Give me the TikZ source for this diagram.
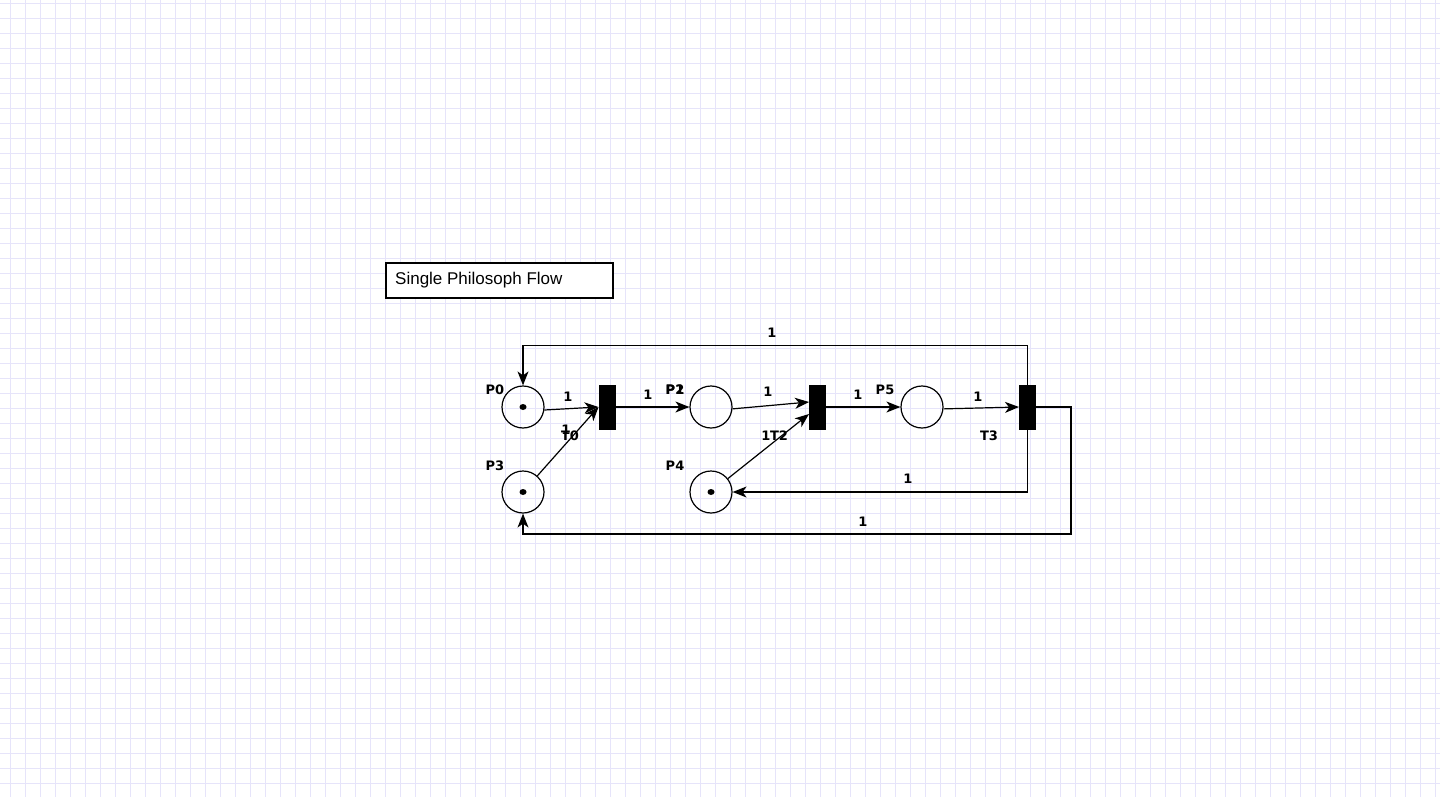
\documentclass[tikz,border=0pt]{standalone}
\usepackage{fontspec}
\setmainfont{DejaVu Sans}
\newfontfamily\titlefont{Liberation Sans}
\usetikzlibrary{arrows.meta,positioning,calc,shapes.geometric}
\definecolor{gridline}{RGB}{230,228,250}

\tikzset{
  place/.style={circle, draw, line width=1.2pt, minimum size=42pt, inner sep=0pt},
  trans/.style={rectangle, draw, fill=black, line width=1pt, minimum width=16pt, minimum height=44pt, inner sep=0pt},
  token/.style={ellipse, fill=black, minimum width=7pt, minimum height=6pt, inner sep=0pt},
  arc/.style={line width=1.2pt, -{Stealth[length=14pt, width=11pt, inset=4pt]}},
  lbl/.style={font=\fontsize{13}{15}\selectfont\bfseries, inner sep=0pt}
}

\begin{document}
\begin{tikzpicture}[x=1pt, y=-1pt]
  \useasboundingbox (0,0) rectangle (1440,797);
  % background grid
  \foreach \gx in {10,25,...,1435} \draw[gridline, line width=0.9pt] (\gx,0) -- (\gx,797);
  \foreach \gy in {3,18,...,795} \draw[gridline, line width=0.9pt] (0,\gy) -- (1440,\gy);

  % title
  \draw[line width=1.2pt, fill=white] (386,263) rectangle (613,298);
  \node[anchor=west, inner sep=0pt, font=\titlefont\fontsize{17}{19}\selectfont] (title) at (395,280) {Single Philosoph Flow};

  % places
  \node[place] (P0) at (523,407) {};
  \node[place] (P3) at (523,492) {};
  \node[place] (P2) at (711,407) {};
  \node[place] (P4) at (711,492) {};
  \node[place] (P5) at (922,407) {};
  \node[token] at (P0) {};
  \node[token] at (P3) {};
  \node[token] at (P4) {};

  % transitions
  \node[trans] (T0) at (607,407) {};
  \node[trans] (T2) at (817.5,407) {};
  \node[trans] (T3) at (1027.5,407) {};

  % arcs
  \draw[arc] (P0.-8) -- (T0.west);
  \draw[arc] (P3) -- (T0.west);
  \draw[arc] (T0.east) -- (P2.west);
  \draw[arc] (P2.-5) -- ($(T2.west)+(0,-5)$);
  \draw[arc] (P4) -- ($(T2.west)+(0,7)$);
  \draw[arc] (T2.east) -- (P5.west);
  \draw[arc] (P5.-5) -- (T3.west);
  \draw[arc] (T3.north) -- ++(0,-39) -| (P0.north);
  \draw[arc] (T3.south) |- (P4.east);
  \draw[arc] (T3.east) -- ++(35,0) -- ++(0,127) -| (P3.south);

  % names
  \node[lbl] (nP0) at (495,390) {P0};
  \node[lbl] (nP3) at (495,466) {P3};
  \node[lbl] (nP1) at (675,390) {P1};
  \node[lbl] (nP2) at (675,390) {P2};
  \node[lbl] (nP4) at (675,466) {P4};
  \node[lbl] (nP5) at (885,390) {P5};
  \node[lbl] (nT0) at (570,436) {T0};
  \node[lbl] (nT2) at (779,436) {T2};
  \node[lbl] (nT3) at (989,436) {T3};

  % weights
  \node[lbl] (w1) at (568,397) {1};
  \node[lbl] (w2) at (566,430) {1};
  \node[lbl] (w3) at (648,395) {1};
  \node[lbl] (w4) at (768,392) {1};
  \node[lbl] (w5) at (766,436) {1};
  \node[lbl] (w6) at (858,395) {1};
  \node[lbl] (w7) at (978,397) {1};
  \node[lbl] (w8) at (772,333) {1};
  \node[lbl] (w9) at (908,479) {1};
  \node[lbl] (w10) at (863,522) {1};
\end{tikzpicture}
\end{document}
